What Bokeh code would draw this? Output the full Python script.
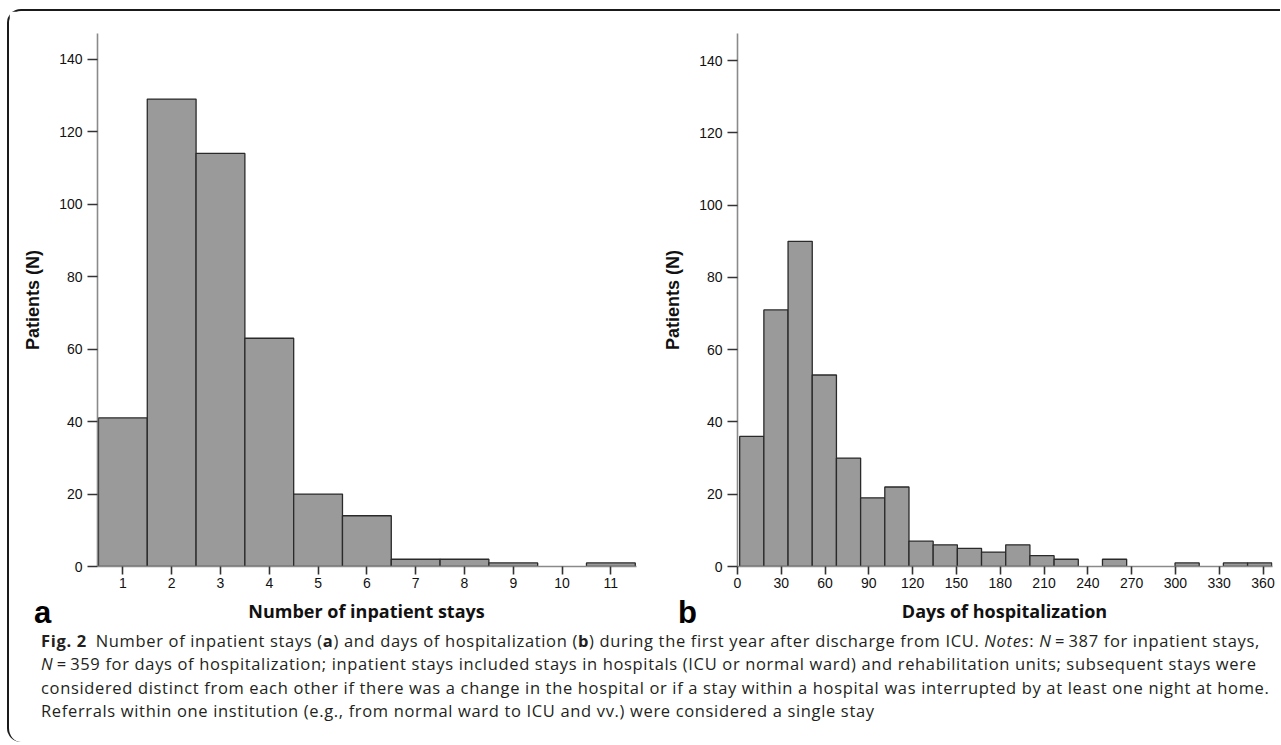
import numpy as np
from bokeh.plotting import figure
from bokeh.models import FixedTicker, Div, ColumnDataSource
from bokeh.layouts import column, row
from bokeh.embed import file_html
from bokeh.resources import INLINE

# ---------------- data ----------------
stays_categories = [1, 2, 3, 4, 5, 6, 7, 8, 9, 10, 11]
stays_patients = [41, 129, 114, 63, 20, 14, 2, 2, 1, 0, 1]

days_range = [1.5, 366.0]          # histogram span (days)
days_patients = [36, 71, 90, 53, 30, 19, 22, 7, 6, 5, 4, 6, 3, 2, 0, 2, 0, 0, 1, 0, 1, 1]

y_ticks = [0, 20, 40, 60, 80, 100, 120, 140]
stays_ticks = stays_categories
days_ticks = [0, 30, 60, 90, 120, 150, 180, 210, 240, 270, 300, 330, 360]

stays_xlabel = "Number of inpatient stays"
days_xlabel = "Days of hospitalization"
y_label = "Patients (N)"
panel_letters = ["a", "b"]

# ---------------- styles / geometry ----------------
BAR_FILL = "#9a9a9a"
BAR_LINE = "#2a2a2a"
AXIS_GRAY = "#8a8a8a"
TEXT = "#111111"
FIG_H = 584          # panel figure height
BOTTOM_H = 147       # html block under the panels
A_W, B_W = 631, 640  # panel widths
A_ML, A_MR = 88, 4
B_ML, B_MR = 97, 8


def make_panel(width, mb_left, mb_right, mb_top, x_range, y_range,
               left, right, top, xticks):
    p = figure(width=width, height=FIG_H, x_range=x_range, y_range=y_range,
               output_backend="svg", toolbar_location=None,
               min_border_left=mb_left, min_border_right=mb_right,
               min_border_top=mb_top, min_border_bottom=29)
    keep = [i for i, t in enumerate(top) if t > 0]
    src = ColumnDataSource(dict(left=[left[i] for i in keep],
                                right=[right[i] for i in keep],
                                top=[top[i] for i in keep]))
    p.quad(left="left", right="right", top="top", bottom=0, source=src,
           fill_color=BAR_FILL, line_color=BAR_LINE, line_width=1.3)
    p.xgrid.visible = False
    p.ygrid.visible = False
    p.outline_line_color = None
    p.background_fill_color = "white"
    p.border_fill_color = "white"

    for ax, ticks in ((p.xaxis, xticks), (p.yaxis, y_ticks)):
        ax.ticker = FixedTicker(ticks=ticks)
        ax.axis_line_color = AXIS_GRAY
        ax.axis_line_width = 1.6
        ax.major_tick_line_color = "#333333"
        ax.major_tick_line_width = 1.6
        ax.major_tick_in = 0
        ax.minor_tick_line_color = None
        ax.major_label_text_font = "Liberation Sans"
        ax.major_label_text_font_size = "14px"
        ax.major_label_text_color = TEXT
    p.xaxis.major_tick_out = 8
    p.xaxis.major_label_standoff = 3
    p.yaxis.major_tick_out = 10
    p.yaxis.major_label_standoff = 5

    p.yaxis.axis_label = y_label
    p.yaxis.axis_label_text_font = "Liberation Sans"
    p.yaxis.axis_label_text_font_style = "bold"
    p.yaxis.axis_label_text_font_size = "18px"
    p.yaxis.axis_label_text_color = TEXT
    p.yaxis.axis_label_standoff = 13
    return p


# panel a
a_left = [c - 0.5 for c in stays_categories]
a_right = [c + 0.5 for c in stays_categories]
pa = make_panel(A_W, A_ML, A_MR, 20, (0.48, 11.525), (0, 147.1),
                a_left, a_right, stays_patients, stays_ticks)

# panel b
edges = np.linspace(days_range[0], days_range[1], len(days_patients) + 1)
pb = make_panel(B_W, B_ML, B_MR, 22, (0, 366.5), (0, 147.5),
                list(edges[:-1]), list(edges[1:]), days_patients, days_ticks)

# ---------------- bottom block: panel letters, x titles, caption ----------------
a_center = A_ML + (A_W - A_ML - A_MR) / 2
b_center = A_W + B_ML + (B_W - B_ML - B_MR) / 2

letter_css = ("position:absolute;top:2px;font-family:'Liberation Sans';font-weight:bold;"
              "font-size:31px;line-height:31px;color:#000;")
title_css = ("position:absolute;top:7px;transform:translateX(-50%);font-family:'Open Sans';"
             "font-weight:bold;font-size:18px;line-height:18px;color:#111;white-space:nowrap;")
caption_css = ("position:absolute;top:34px;left:32px;font-family:'Open Sans';font-size:16.5px;"
               "line-height:23.3px;letter-spacing:0.66px;color:#231f20;white-space:nowrap;")

caption_body = (
    '<b>Fig.&nbsp;2</b>&ensp;Number of inpatient stays (<b>a</b>) and days of hospitalization (<b>b</b>) '
    'during the first year after discharge from ICU. <i>Notes</i>: <i>N</i>&#8201;=&#8201;387 for inpatient stays,<br>'
    '<i>N</i>&#8201;=&#8201;359 for days of hospitalization; inpatient stays included stays in hospitals (ICU or normal ward) '
    'and rehabilitation units; subsequent stays were<br>'
    'considered distinct from each other if there was a change in the hospital or if a stay within a hospital '
    'was interrupted by at least one night at home.<br>'
    'Referrals within one institution (e.g., from normal ward to ICU and vv.) were considered a single stay'
)

bottom_html = (
    f'<div style="position:relative;width:{A_W + B_W}px;height:{BOTTOM_H}px;">'
    f'<span style="{letter_css}left:25px;">{panel_letters[0]}</span>'
    f'<span style="{letter_css}left:{A_W + 38}px;">{panel_letters[1]}</span>'
    f'<span style="{title_css}left:{a_center}px;">{stays_xlabel}</span>'
    f'<span style="{title_css}left:{b_center}px;">{days_xlabel}</span>'
    f'<div style="{caption_css}">{caption_body}</div>'
    '</div>'
)
bottom = Div(text=bottom_html, width=A_W + B_W, height=BOTTOM_H, margin=(0, 0, 0, 0))

layout = column(row(pa, pb), bottom, margin=(9, 0, 0, 7),
                styles={"border-top": "2px solid #1a1a1a",
                        "border-left": "2px solid #1a1a1a",
                        "border-top-left-radius": "14px",
                        "border-bottom-left-radius": "14px"})

open("out.html", "w").write(file_html(layout, INLINE))
